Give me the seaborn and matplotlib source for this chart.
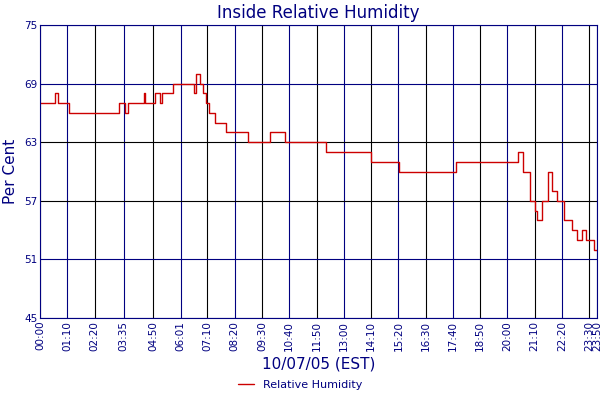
import matplotlib
matplotlib.use("Agg")
import matplotlib.pyplot as plt
import seaborn as sns
import pandas as pd

minutes = [0, 39, 45, 75, 204, 217, 225, 266, 269, 294, 307, 313, 341, 395, 400, 411, 418, 426, 434,
           449, 478, 535, 591, 628, 733, 850, 922, 1069, 1219, 1227, 1240, 1258, 1270, 1276, 1289, 1304,
           1315, 1327, 1346, 1366, 1379, 1392, 1402, 1423, 1430]
humidity = [67, 68, 67, 66, 67, 66, 67, 68, 67, 68, 67, 68, 69, 68, 70, 69, 68, 67, 66,
            65, 64, 63, 64, 63, 62, 61, 60, 61, 61, 62, 60, 57, 56, 55, 57, 60,
            58, 57, 55, 54, 53, 54, 53, 52, 52]
tick_minutes = [0, 70, 140, 215, 290, 361, 430, 500, 570, 640, 710, 780, 850, 920, 990, 1060, 1130, 1200, 1270, 1340, 1410, 1430]
tick_labels = ["00:00", "01:10", "02:20", "03:35", "04:50", "06:01", "07:10", "08:20", "09:30", "10:40", "11:50",
               "13:00", "14:10", "15:20", "16:30", "17:40", "18:50", "20:00", "21:10", "22:20", "23:30", "23:50"]
y_ticks = [45, 51, 57, 63, 69, 75]

sns.set_style("white")
plt.rcParams['font.family'] = ['DejaVu Sans']
navy = "#000080"
fig = plt.figure(figsize=(6, 4), dpi=100)
ax = fig.add_axes([40/600, 82/400, 557/600, 293/400])
for i, t in enumerate(tick_minutes):
    ax.axvline(t, color=navy if i % 2 else "black", lw=0.8, zorder=0)
for i, v in enumerate(y_ticks):
    ax.axhline(v, color="black" if v in (57, 63) else navy, lw=0.8, zorder=0)
df = pd.DataFrame({"m": minutes, "h": humidity})
sns.lineplot(data=df, x="m", y="h", ax=ax, color="#cc0000", lw=1, drawstyle="steps-post",
             label="Relative Humidity", legend=False)
ax.set_xlim(0, 1430)
ax.set_ylim(45, 75)
ax.set_xticks(tick_minutes)
ax.set_xticklabels(tick_labels, rotation=90, fontsize=7.5, color=navy)
ax.set_yticks(y_ticks)
ax.set_yticklabels([str(v) for v in y_ticks], fontsize=7.5, color=navy)
ax.tick_params(length=0, pad=2)
for s in ax.spines.values():
    s.set_color(navy)
ax.set_title("Inside Relative Humidity", color=navy, fontsize=12, pad=5)
ax.set_xlabel("10/07/05 (EST)", color=navy, fontsize=11, labelpad=4)
ax.set_ylabel("Per Cent", color=navy, fontsize=11)
fig.legend(loc="lower center", bbox_to_anchor=(0.5, 0.0), frameon=False, fontsize=8,
           labelcolor=navy, handlelength=1.5)
fig.savefig("out.png")
